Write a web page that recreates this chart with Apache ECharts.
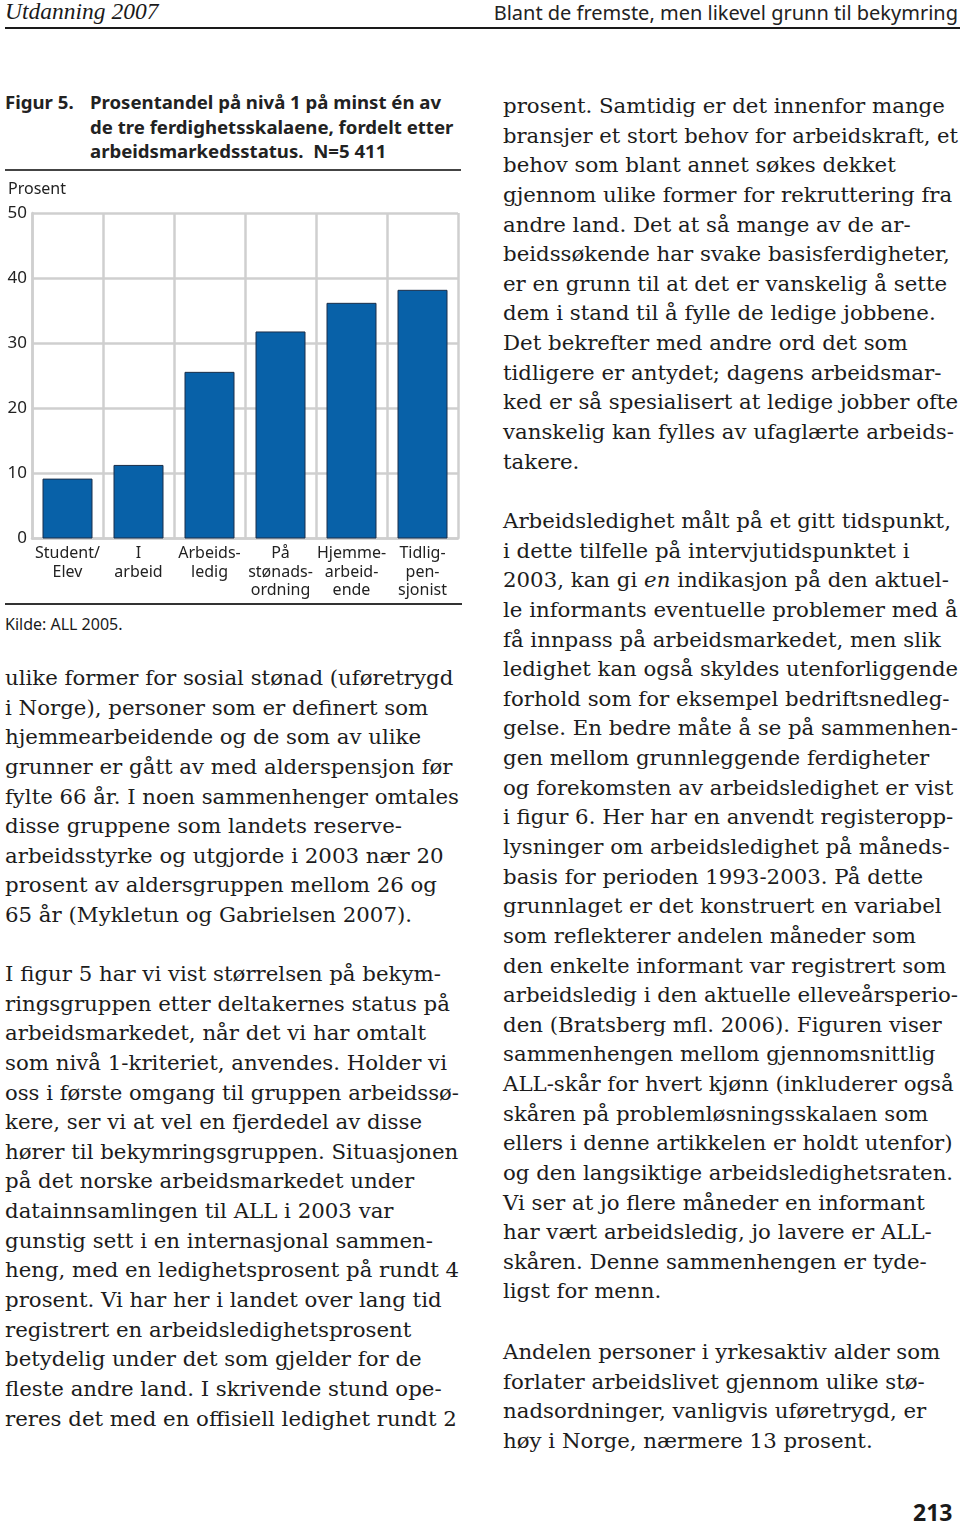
<!DOCTYPE html>
<html><head><meta charset="utf-8">
<script src="https://cdn.jsdelivr.net/npm/echarts@6/dist/echarts.min.js"></script>
<style>
html,body{margin:0;padding:0;background:#fff;}
body{width:960px;height:1525px;position:relative;overflow:hidden;color:#1a1a1a;}
.abs{position:absolute;white-space:pre;}
.hdrL{left:5px;top:-2px;font-family:"Liberation Serif",serif;font-style:italic;font-size:23.5px;}
.hdrR{right:2px;top:-1px;font-family:"Noto Sans",sans-serif;font-size:20px;color:#222;}
.rule{position:absolute;background:#1a1a1a;}
.title{font-family:"Noto Sans",sans-serif;font-weight:bold;font-size:18.6px;line-height:24.5px;color:#222;}
.src{font-family:"Noto Sans",sans-serif;font-size:16px;}
.body{font-family:"DejaVu Serif",serif;font-size:21.3px;line-height:29.63px;color:#1c1c1c;transform-origin:0 50%;}
.pnum{font-family:"Noto Sans",sans-serif;font-weight:bold;font-size:23px;}
</style></head>
<body>
<div class="abs hdrL">Utdanning 2007</div>
<div class="abs hdrR">Blant de fremste, men likevel grunn til bekymring</div>
<div class="rule" style="left:5px;top:27px;width:955px;height:2px;"></div>

<div class="abs title" style="left:5px;top:90px;">Figur 5.</div>
<div class="abs title" style="left:90px;top:90px;">Prosentandel på nivå 1 på minst én av
de tre ferdighetsskalaene, fordelt etter
arbeidsmarkedsstatus.  N=5 411</div>
<div class="rule" style="left:5px;top:169px;width:456px;height:1.5px;background:#444;"></div>

<div id="chart" style="position:absolute;left:0;top:180px;width:470px;height:420px;"></div>

<div class="rule" style="left:5px;top:603px;width:457px;height:1.5px;background:#333;"></div>
<div class="abs src" style="left:5px;top:613px;">Kilde: ALL 2005.</div>

<div id="colL"></div>
<div id="colR"></div>
<div class="abs pnum" style="left:913px;top:1496px;">213</div>

<script>
// ---- chart data ----
const categories = ['Student/\nElev', 'I\narbeid', 'Arbeids-\nledig', 'På\nstønads-\nordning', 'Hjemme-\narbeid-\nende', 'Tidlig-\npen-\nsjonist'];
const values = [9.2, 11.3, 25.6, 31.8, 36.2, 38.2];
const yMin = 0, yMax = 50, yStep = 10;
const yName = 'Prosent';

// ---- body text lines ----
const leftLines = [
 [663, ['ulike former for sosial stønad (uføretrygd','i Norge), personer som er definert som','hjemmearbeidende og de som av ulike','grunner er gått av med alderspensjon før','fylte 66 år. I noen sammenhenger omtales','disse gruppene som landets reserve-','arbeidsstyrke og utgjorde i 2003 nær 20','prosent av aldersgruppen mellom 26 og','65 år (Mykletun og Gabrielsen 2007).']],
 [959, ['I figur 5 har vi vist størrelsen på bekym-','ringsgruppen etter deltakernes status på','arbeidsmarkedet, når det vi har omtalt','som nivå 1-kriteriet, anvendes. Holder vi','oss i første omgang til gruppen arbeidssø-','kere, ser vi at vel en fjerdedel av disse','hører til bekymringsgruppen. Situasjonen','på det norske arbeidsmarkedet under','datainnsamlingen til ALL i 2003 var','gunstig sett i en internasjonal sammen-','heng, med en ledighetsprosent på rundt 4','prosent. Vi har her i landet over lang tid','registrert en arbeidsledighetsprosent','betydelig under det som gjelder for de','fleste andre land. I skrivende stund ope-','reres det med en offisiell ledighet rundt 2']]
];
const rightLines = [
 [91, ['prosent. Samtidig er det innenfor mange','bransjer et stort behov for arbeidskraft, et','behov som blant annet søkes dekket','gjennom ulike former for rekruttering fra','andre land. Det at så mange av de ar-','beidssøkende har svake basisferdigheter,','er en grunn til at det er vanskelig å sette','dem i stand til å fylle de ledige jobbene.','Det bekrefter med andre ord det som','tidligere er antydet; dagens arbeidsmar-','ked er så spesialisert at ledige jobber ofte','vanskelig kan fylles av ufaglærte arbeids-','takere.']],
 [506, ['Arbeidsledighet målt på et gitt tidspunkt,','i dette tilfelle på intervjutidspunktet i','2003, kan gi <i>en</i> indikasjon på den aktuel-','le informants eventuelle problemer med å','få innpass på arbeidsmarkedet, men slik','ledighet kan også skyldes utenforliggende','forhold som for eksempel bedriftsnedleg-','gelse. En bedre måte å se på sammenhen-','gen mellom grunnleggende ferdigheter','og forekomsten av arbeidsledighet er vist','i figur 6. Her har en anvendt registeropp-','lysninger om arbeidsledighet på måneds-','basis for perioden 1993-2003. På dette','grunnlaget er det konstruert en variabel','som reflekterer andelen måneder som','den enkelte informant var registrert som','arbeidsledig i den aktuelle elleveårsperio-','den (Bratsberg mfl. 2006). Figuren viser','sammenhengen mellom gjennomsnittlig','ALL-skår for hvert kjønn (inkluderer også','skåren på problemløsningsskalaen som','ellers i denne artikkelen er holdt utenfor)','og den langsiktige arbeidsledighetsraten.','Vi ser at jo flere måneder en informant','har vært arbeidsledig, jo lavere er ALL-','skåren. Denne sammenhengen er tyde-','ligst for menn.']],
 [1337, ['Andelen personer i yrkesaktiv alder som','forlater arbeidslivet gjennom ulike stø-','nadsordninger, vanligvis uføretrygd, er','høy i Norge, nærmere 13 prosent.']]
];
function place(id, left, maxW, paras){
  const host = document.getElementById(id);
  let html = '';
  paras.forEach(function(p){
    p[1].forEach(function(t, i){
      html += '<div class="abs body" style="left:' + left + 'px;top:' + (p[0] + i*29.63).toFixed(1) + 'px;">' + t + '</div>';
    });
  });
  host.innerHTML = html;
  Array.prototype.forEach.call(host.children, function(el){
    const w = el.getBoundingClientRect().width;
    if (w > maxW) el.style.transform = 'scaleX(' + (maxW / w).toFixed(4) + ')';
  });
}
place('colL', 5, 454, leftLines);
place('colR', 503, 455, rightLines);

// ---- chart ----
const chart = echarts.init(document.getElementById('chart'), null, {renderer:'canvas'});
const axisFont = {fontFamily:'Noto Sans', color:'#222'};
chart.setOption({
  animation:false,
  backgroundColor:'transparent',
  graphic:[{type:'text', left:8, top:1, style:{text:yName, font:'16px "Noto Sans"', fill:'#222'}}],
  grid:{left:32, top:33, width:426, height:327, containLabel:false},
  xAxis:{
    type:'category', data:categories,
    axisLine:{show:true, lineStyle:{color:'#cfcfcf', width:2.5}},
    axisTick:{show:false},
    splitLine:{show:true, lineStyle:{color:'#cfcfcf', width:2.5}},
    axisLabel:Object.assign({fontSize:16, lineHeight:18.5, margin:6, interval:0}, axisFont)
  },
  yAxis:{
    type:'value', min:yMin, max:yMax, interval:yStep,
    axisLine:{show:true, lineStyle:{color:'#cfcfcf', width:2.5}},
    axisTick:{show:false},
    splitLine:{show:true, lineStyle:{color:'#cfcfcf', width:2.5}},
    axisLabel:Object.assign({fontSize:17, margin:5}, axisFont)
  },
  series:[{
    type:'bar', data:values, barWidth:50,
    itemStyle:{color:'#0861a8', borderColor:'#1b2f4a', borderWidth:1}
  }]
});
</script>
</body></html>
